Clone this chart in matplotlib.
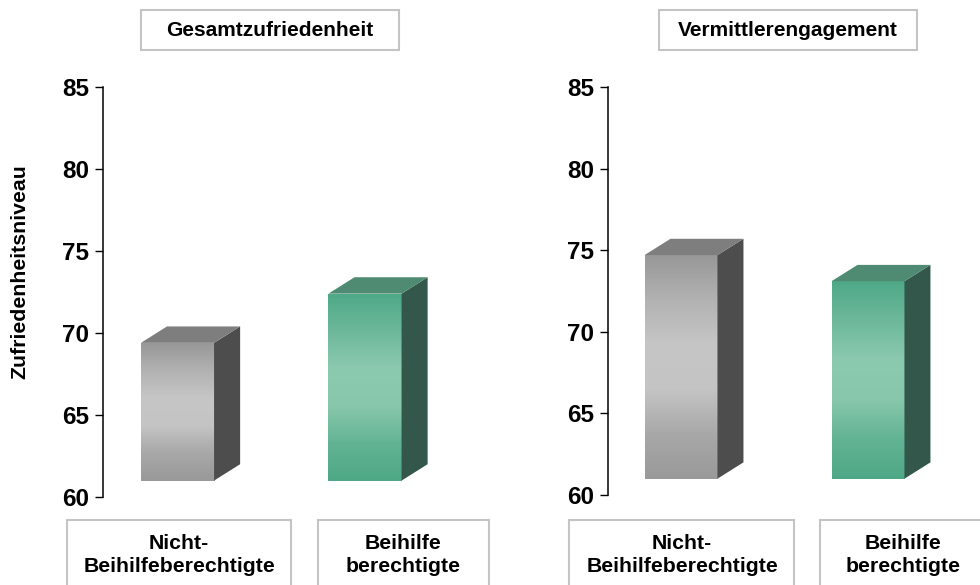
import numpy as np
import matplotlib
matplotlib.use("Agg")
import matplotlib.pyplot as plt
from matplotlib.patches import Polygon, Rectangle
from matplotlib.colors import LinearSegmentedColormap

plt.rcParams['font.family'] = ['Liberation Sans', 'DejaVu Sans']
plt.rcParams['font.weight'] = 'bold'

# data
panels = ["Gesamtzufriedenheit", "Vermittlerengagement"]
categories = ["Nicht-\nBeihilfeberechtigte", "Beihilfe\nberechtigte"]
satisfaction = [69.4, 72.4]
engagement = [74.7, 73.1]
y_label = "Zufriedenheitsniveau"
y_ticks = [60, 65, 70, 75, 80, 85]

W, H = 980, 585
fig = plt.figure(figsize=(W / 100, H / 100), dpi=100)
fig.patch.set_facecolor("white")

base = 61.0
bar_w = 0.39
depth_x = 0.139
depth_y = 1.0

gray_front = LinearSegmentedColormap.from_list(
    "gf", ["#989898", "#b2b2b2", "#c6c6c6", "#c4c4c4", "#a8a8a8", "#999999"])
green_front = LinearSegmentedColormap.from_list(
    "grf", ["#4ea987", "#6db89b", "#8ccab0", "#88c7ac", "#62b394", "#4ea886"])
styles = [
    dict(front=gray_front, side="#4d4d4d", top="#7e7e7e"),
    dict(front=green_front, side="#33574a", top="#4e8b72"),
]


def px(v, total):
    return v / total


def draw_bar(ax, x, value, st):
    x0, x1 = x - bar_w / 2, x + bar_w / 2
    grad = np.linspace(0, 1, 256).reshape(-1, 1)
    ax.imshow(grad, cmap=st["front"], extent=[x0, x1, base, value],
              origin="upper", aspect="auto", zorder=3, interpolation="bilinear")
    side = Polygon([(x1, base), (x1 + depth_x, base + depth_y),
                    (x1 + depth_x, value + depth_y), (x1, value)],
                   closed=True, facecolor=st["side"], edgecolor="none", zorder=3)
    ax.add_patch(side)
    top = Polygon([(x0, value), (x0 + depth_x, value + depth_y),
                   (x1 + depth_x, value + depth_y), (x1, value)],
                  closed=True, facecolor=st["top"], edgecolor="none", zorder=3)
    ax.add_patch(top)


def frame_box(x0, x1, y0, y1):
    r = Rectangle((px(x0, W), 1 - px(y1, H)), px(x1 - x0, W), px(y1 - y0, H),
                  transform=fig.transFigure, facecolor="white",
                  edgecolor="#c4c4c4", linewidth=1.5, clip_on=False)
    fig.add_artist(r)


# axes geometry in pixels: (spine x, right x, y of 60, y of 85, first bar offset, spacing)
geoms = [
    (103, 483, 497, 87, 74.5, 187.5),
    (608, 980, 495, 87, 73.0, 187.0),
]
values = [satisfaction, engagement]

for i, (sx, rx, y60, y85, off, sp) in enumerate(geoms):
    ax = fig.add_axes([sx / W, 1 - y60 / H, (rx - sx) / W, (y60 - y85) / H])
    ax.set_facecolor("none")
    ax.set_ylim(60, 85)
    xl = -off / sp
    ax.set_xlim(xl, xl + (rx - sx) / sp)
    for sp_name in ["top", "right", "bottom"]:
        ax.spines[sp_name].set_visible(False)
    ax.spines["left"].set_linewidth(1.1)
    ax.set_xticks([])
    ax.set_yticks(y_ticks)
    ax.set_yticklabels([str(t) for t in y_ticks], fontsize=17.5, fontweight="bold")
    ax.tick_params(axis="y", length=6, width=1.0, pad=4, direction="out")
    for j, v in enumerate(values[i]):
        draw_bar(ax, j, v, styles[j])

# panel titles in boxes
title_boxes = [(141, 399), (659, 917)]
for (x0, x1), t in zip(title_boxes, panels):
    frame_box(x0, x1, 10, 50)
    fig.text(px((x0 + x1) / 2, W), 1 - px(31, H), t, ha="center", va="center",
             fontsize=15, fontweight="bold")

# category labels in boxes
cat_boxes = [(67, 291, 179), (318, 489, 403), (569, 794, 682), (820, 992, 903)]
for k, (x0, x1, cx) in enumerate(cat_boxes):
    frame_box(x0, x1, 520, 600)
    fig.text(px(cx, W), 1 - px(555, H), categories[k % 2], ha="center", va="center",
             fontsize=15.3, fontweight="bold", linespacing=1.3)

fig.text(px(20, W), 1 - px(272, H), y_label, rotation=90, ha="center", va="center",
         fontsize=15.3, fontweight="bold")

fig.savefig("out.png", dpi=100, facecolor="white")
